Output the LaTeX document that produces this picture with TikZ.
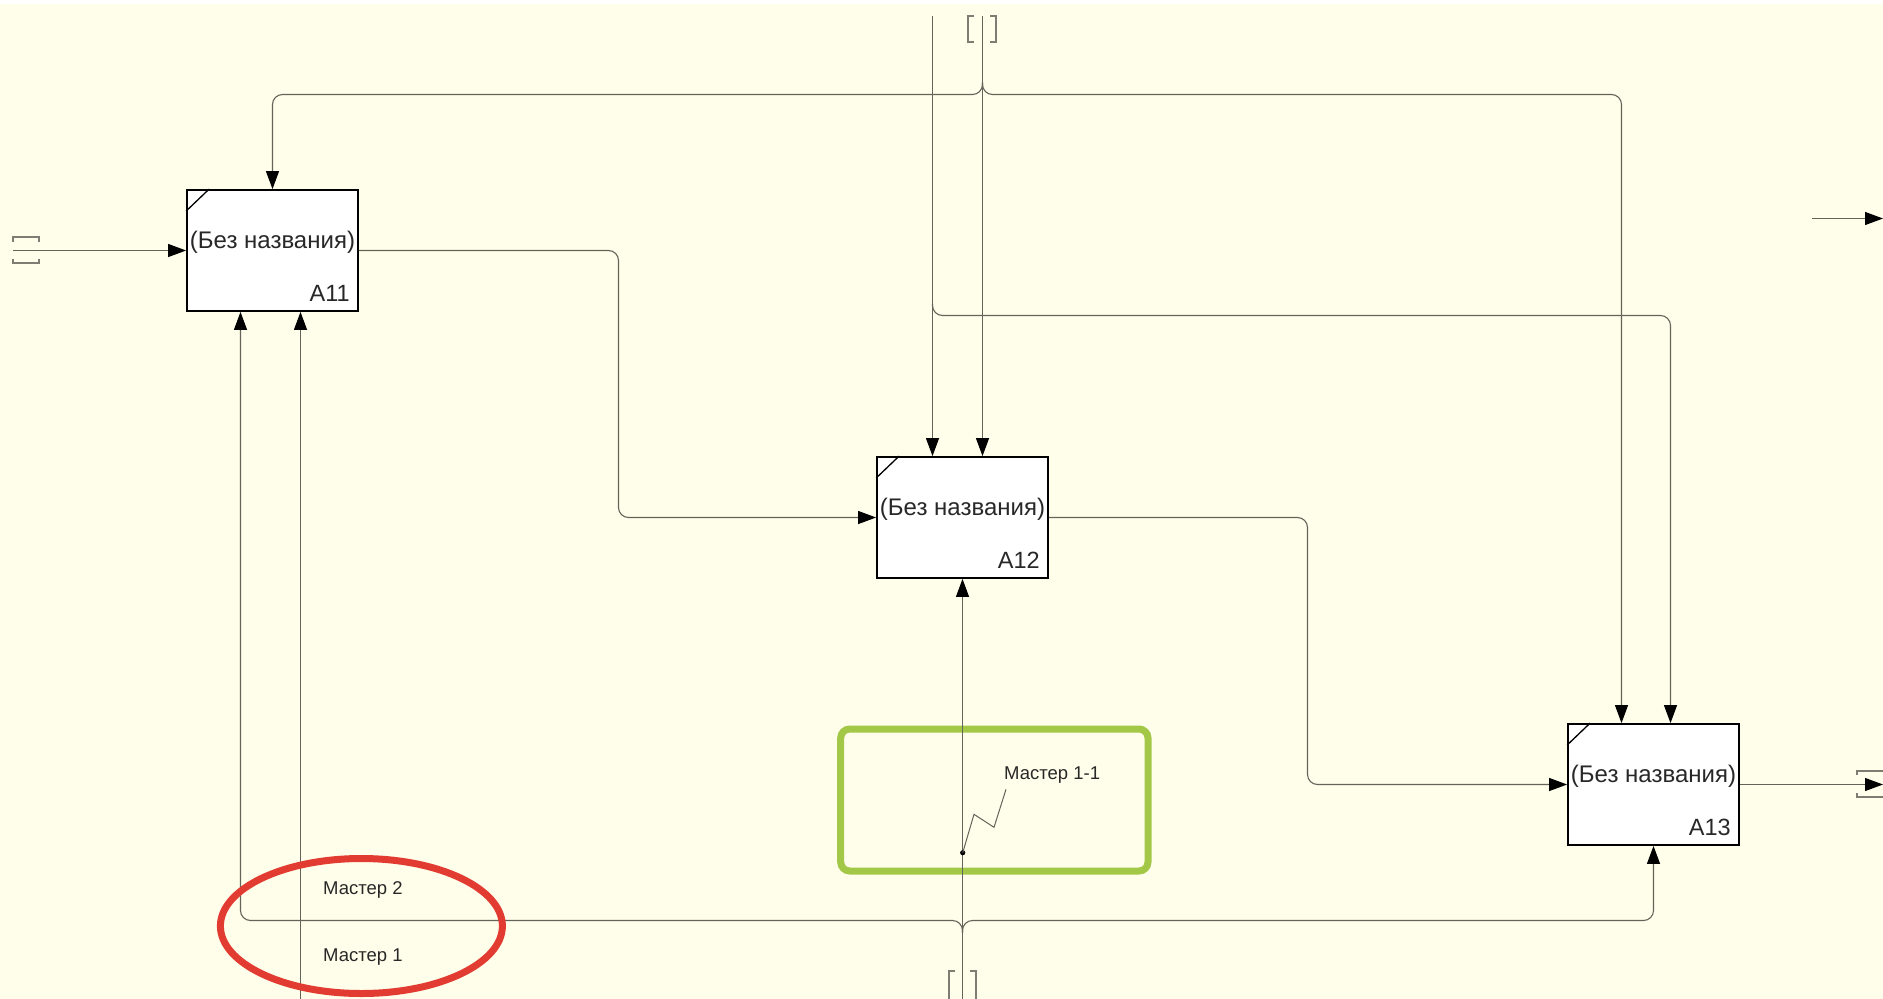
\documentclass[tikz,border=0pt]{standalone}
\usepackage{fontspec}
\setmainfont{Liberation Sans}
\usetikzlibrary{arrows.meta,calc}
\definecolor{bgcol}{RGB}{254,254,234}
\definecolor{linecol}{RGB}{100,100,90}
\definecolor{brcol}{RGB}{125,125,115}
\definecolor{redcol}{RGB}{226,60,50}
\definecolor{greencol}{RGB}{163,200,72}
\definecolor{txtcol}{RGB}{40,40,40}
\begin{document}
\begin{tikzpicture}[x=1pt,y=-1pt,
  box/.style={draw=black, fill=white, line width=1.8pt, minimum width=171pt, minimum height=121pt, inner sep=0pt},
  conn/.style={draw=linecol, line width=1.1pt, rounded corners=10pt},
  arr/.style={conn, -{Triangle[length=18pt,width=13pt,color=black]}},
  brk/.style={draw=brcol, line width=1.1pt},
  ttl/.style={font=\fontsize{24}{28}\selectfont, text=txtcol, inner sep=0pt},
  num/.style={font=\fontsize{23.5}{27}\selectfont, text=txtcol, inner sep=0pt, anchor=south east},
  note/.style={font=\fontsize{18.5}{22}\selectfont, text=txtcol, inner sep=0pt, anchor=west}
]
\useasboundingbox (0,0) rectangle (1883,999);
\fill[bgcol] (0,0) rectangle (1883,999);
\fill[white] (0,0) rectangle (1883,4);

% green highlight
\draw[greencol, line width=7pt, rounded corners=9pt] (840.7,729) rectangle (1148,871);

% boxes
\node[box] (A11) at (272.5,250.5) {};
\node[box] (A12) at (962.5,517.5) {};
\node[box] (A13) at (1653.5,784.5) {};
\foreach \b/\n in {A11/A11, A12/A12, A13/A13}{
  \node[ttl] (\b t) at ($(\b.center)+(0,-8)$) {(Без названия)};
  \node[num] (\b n) at ($(\b.south east)+(-9,-10)$) {\n};
  \draw[line width=1.3pt] ($(\b.north west)+(0,22)$) -- ($(\b.north west)+(23,0)$);
}

% coordinates
\coordinate (inL) at (13,250.5);
\coordinate (outR) at (1883,784.5);
\coordinate (tA) at (932.5,16);
\coordinate (tB) at (982.5,16);
\coordinate (brA) at (932.5,315.5);
\coordinate (jt) at (982.5,94.5);
\coordinate (jb) at (962.5,920.5);
\coordinate (bB) at (962.5,1005);
\coordinate (bM1) at (300.5,1005);
\coordinate (a11in1) at (240.5,0);
\coordinate (a13in1) at (1621.5,0);
\coordinate (a13in2) at (1670.5,0);
\coordinate (c1) at (618.5,0);
\coordinate (c2) at (1307.5,0);
\coordinate (trS) at (1812,218.5);
\coordinate (trE) at (1883,218.5);

% inputs / outputs
\draw[arr] (inL) -- (A11.west);
\draw[arr] (A11.east) -- (A11.east -| c1) |- (A12.west);
\draw[arr] (A12.east) -- (A12.east -| c2) |- (A13.west);
\draw[arr] (A13.east) -- (outR);
\draw[arr] (trS) -- (trE);

% controls from the top
\draw[arr] (tA) -- (tA |- A12.north);
\draw[arr] (tB) -- (tB |- A12.north);
\draw[arr] ($(brA)+(0,-12)$) -- (brA) -| (a13in2 |- A13.north);
\draw[arr] ($(jt)+(0,-12)$) -- (jt) -| (A11.north);
\draw[arr] ($(jt)+(0,-12)$) -- (jt) -| (a13in1 |- A13.north);

% mechanisms from the bottom
\draw[arr] (bB) -- (A12.south);
\draw[arr] ($(jb)+(0,12)$) -- (jb) -| (a11in1 |- A11.south);
\draw[arr] ($(jb)+(0,12)$) -- (jb) -| (A13.south);
\draw[arr] (bM1) -- (bM1 |- A11.south);

% tunnel brackets
\draw[brk] (13,242) -- (13,237) -- (39,237) -- (39,242);
\draw[brk] (13,259) -- (13,263) -- (39,263) -- (39,259);
\draw[brk] (974,16) -- (968,16) -- (968,42) -- (974,42);
\draw[brk] (990,16) -- (996,16) -- (996,42) -- (990,42);
\draw[brk] (955,971) -- (949,971) -- (949,1002);
\draw[brk] (970,971) -- (976,971) -- (976,1002);
\draw[brk] (1857,775) -- (1857,771) -- (1886,771);
\draw[brk] (1857,793) -- (1857,797) -- (1886,797);

% squiggle label
\fill[black] (962.7,852.7) circle (2.6pt);
\draw[linecol, line width=1pt] (962.7,852.7) -- (974,814.3) -- (994,827.3) -- (1006,789.3);
\node[note] (m11) at (1004,775) {Мастер 1-1};

% labels in ellipse
\node[note] (m2) at (323,890) {Мастер 2};
\node[note] (m1) at (323,957) {Мастер 1};
\draw[redcol, line width=7pt] (361.4,926) ellipse [x radius=141pt, y radius=67.5pt];
\end{tikzpicture}
\end{document}
